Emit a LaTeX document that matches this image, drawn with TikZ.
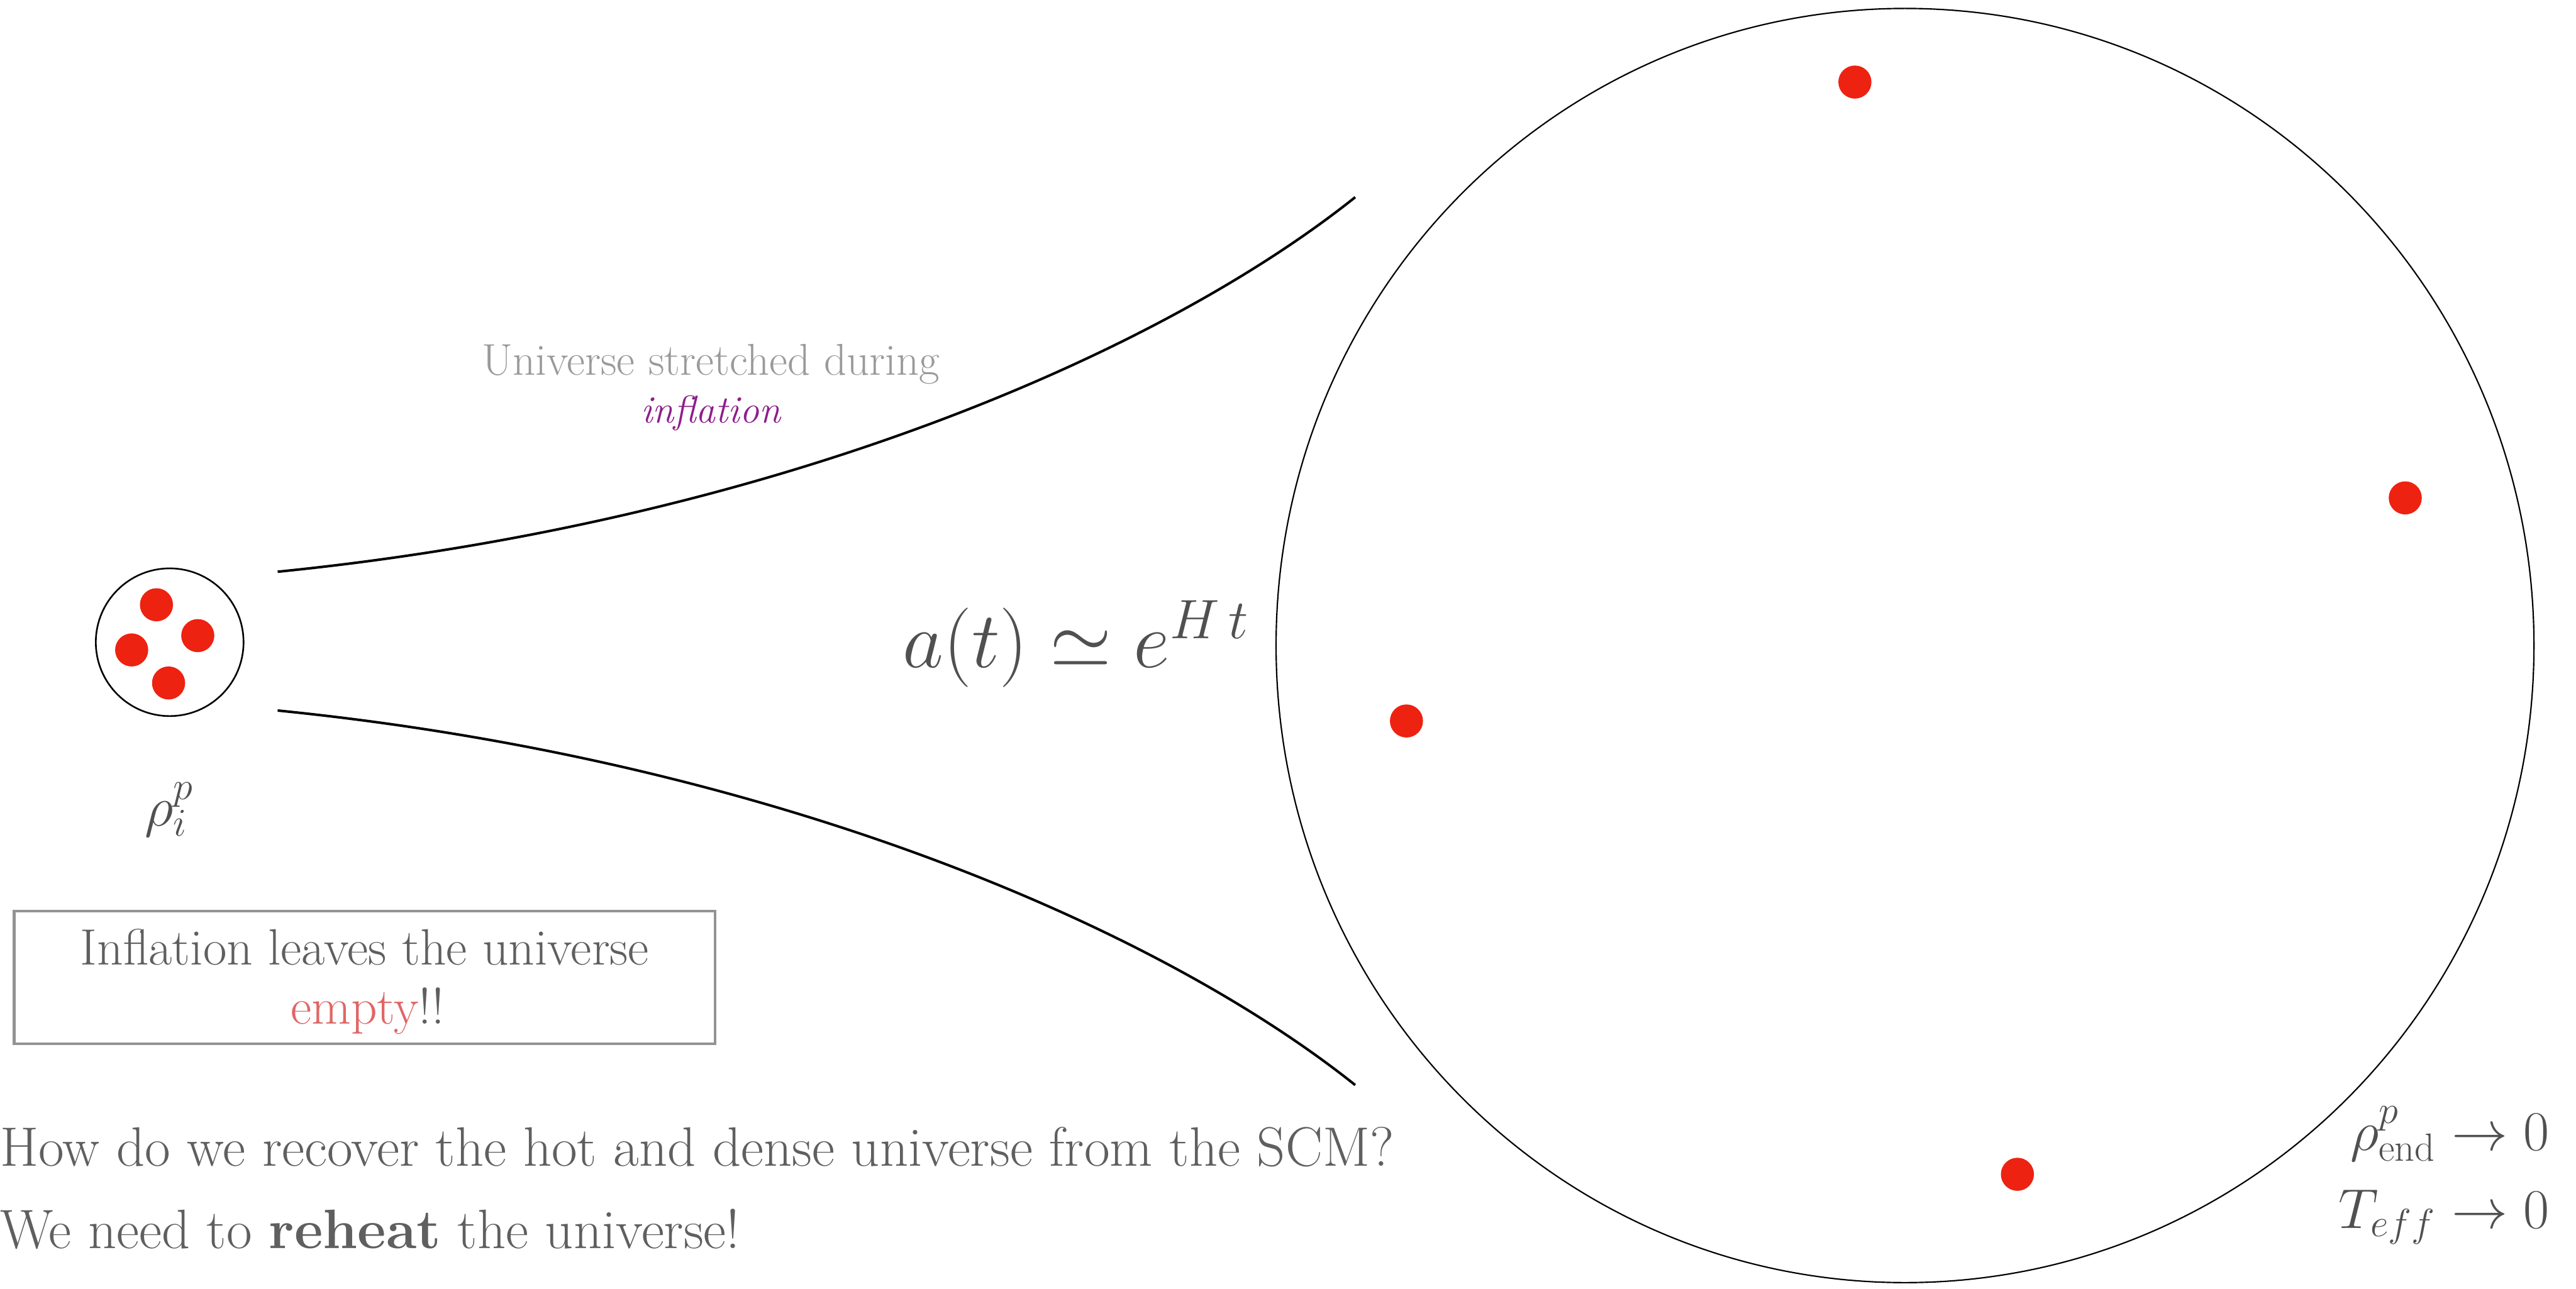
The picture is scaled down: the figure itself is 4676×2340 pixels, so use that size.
\RequirePackage{fix-cm}
\documentclass[tikz,border=0pt]{standalone}
\usepackage{fontspec}
\usetikzlibrary{shapes.geometric}
\definecolor{txtgray}{HTML}{5F5F5F}
\definecolor{mathgray}{HTML}{505050}
\definecolor{lightgraytxt}{HTML}{9A9A9A}
\definecolor{inflpurple}{HTML}{8E1E8C}
\definecolor{emptyred}{HTML}{E06666}
\definecolor{dotred}{HTML}{EE2211}
\definecolor{boxgray}{HTML}{939393}
\begin{document}
\begin{tikzpicture}[x=0.01cm,y=-0.01cm,
  txt/.style={text=txtgray, inner sep=0pt, outer sep=0pt},
  mth/.style={text=mathgray, inner sep=0pt, outer sep=0pt},
  dot/.style={circle, fill=dotred, inner sep=0pt, minimum size=0.6cm},
  curve/.style={line width=1.3pt, draw=black},
]
\useasboundingbox (0,0) rectangle (4676,2340);

% small universe
\node[circle, draw, line width=0.85pt, minimum size=2.68cm, inner sep=0pt] (small) at (308,1166) {};
\node[dot] (s1) at (284,1098) {};
\node[dot] (s2) at (359,1154) {};
\node[dot] (s3) at (239,1180) {};
\node[dot] (s4) at (306,1240) {};

% big universe
\node[ellipse, draw, line width=0.7pt, minimum width=22.82cm, minimum height=23.12cm, inner sep=0pt] (big) at (3458,1172) {};
\node[dot] (b1) at (3367,149) {};
\node[dot] (b2) at (4366,904) {};
\node[dot] (b3) at (2553,1309) {};
\node[dot] (b4) at (3662,2132) {};

% stretching curves
\coordinate (u0) at (504,1038);
\coordinate (u1) at (2460,358);
\coordinate (l0) at (504,1290);
\coordinate (l1) at (2460,1970);
\draw[curve] (u0) .. controls (1399,948) and (2102,644) .. (u1);
\draw[curve] (l0) .. controls (1399,1380) and (2102,1684) .. (l1);

% labels
\node[txt, anchor=base, text=lightgraytxt, font=\fontsize{23pt}{28pt}\selectfont] (stretch) at (1290,681) {Universe stretched during};
\node[txt, anchor=base, text=inflpurple, font=\fontsize{20pt}{24pt}\selectfont\itshape] (infl) at (1290,768) {inflation};

\node[mth, anchor=base, font=\fontsize{41pt}{49pt}\selectfont] (scale) at (1953,1212) {$a(t)\simeq e^{H\,t}$};

\node[mth, anchor=base, font=\fontsize{29pt}{35pt}\selectfont] (rhoi) at (307,1500) {$\rho_i^p$};

\node[draw=boxgray, line width=1.4pt, minimum width=12.72cm, minimum height=2.41cm, inner sep=0pt] (box) at (662,1774.5) {};
\node[txt, anchor=base, font=\fontsize{26.4pt}{32pt}\selectfont] (empty1) at (662,1752) {Inflation leaves the universe};
\node[txt, anchor=base, font=\fontsize{26.4pt}{32pt}\selectfont] (empty2) at (667,1859) {\textcolor{emptyred}{empty}!!};

\node[txt, anchor=base west, font=\fontsize{28.7pt}{34pt}\selectfont] (q1) at (0,2117) {How do we recover the hot and dense universe from the SCM?};
\node[txt, anchor=base west, font=\fontsize{28.7pt}{34pt}\selectfont] (q2) at (0,2267) {We need to \textbf{reheat} the universe!};

\node[mth, anchor=base east, font=\fontsize{29pt}{35pt}\selectfont] (rhoend) at (4627,2088) {$\rho^p_{\mathrm{end}}\to 0$};
\node[mth, anchor=base east, font=\fontsize{29pt}{35pt}\selectfont] (teff) at (4627,2230) {$T_{eff}\to 0$};
\end{tikzpicture}
\end{document}
